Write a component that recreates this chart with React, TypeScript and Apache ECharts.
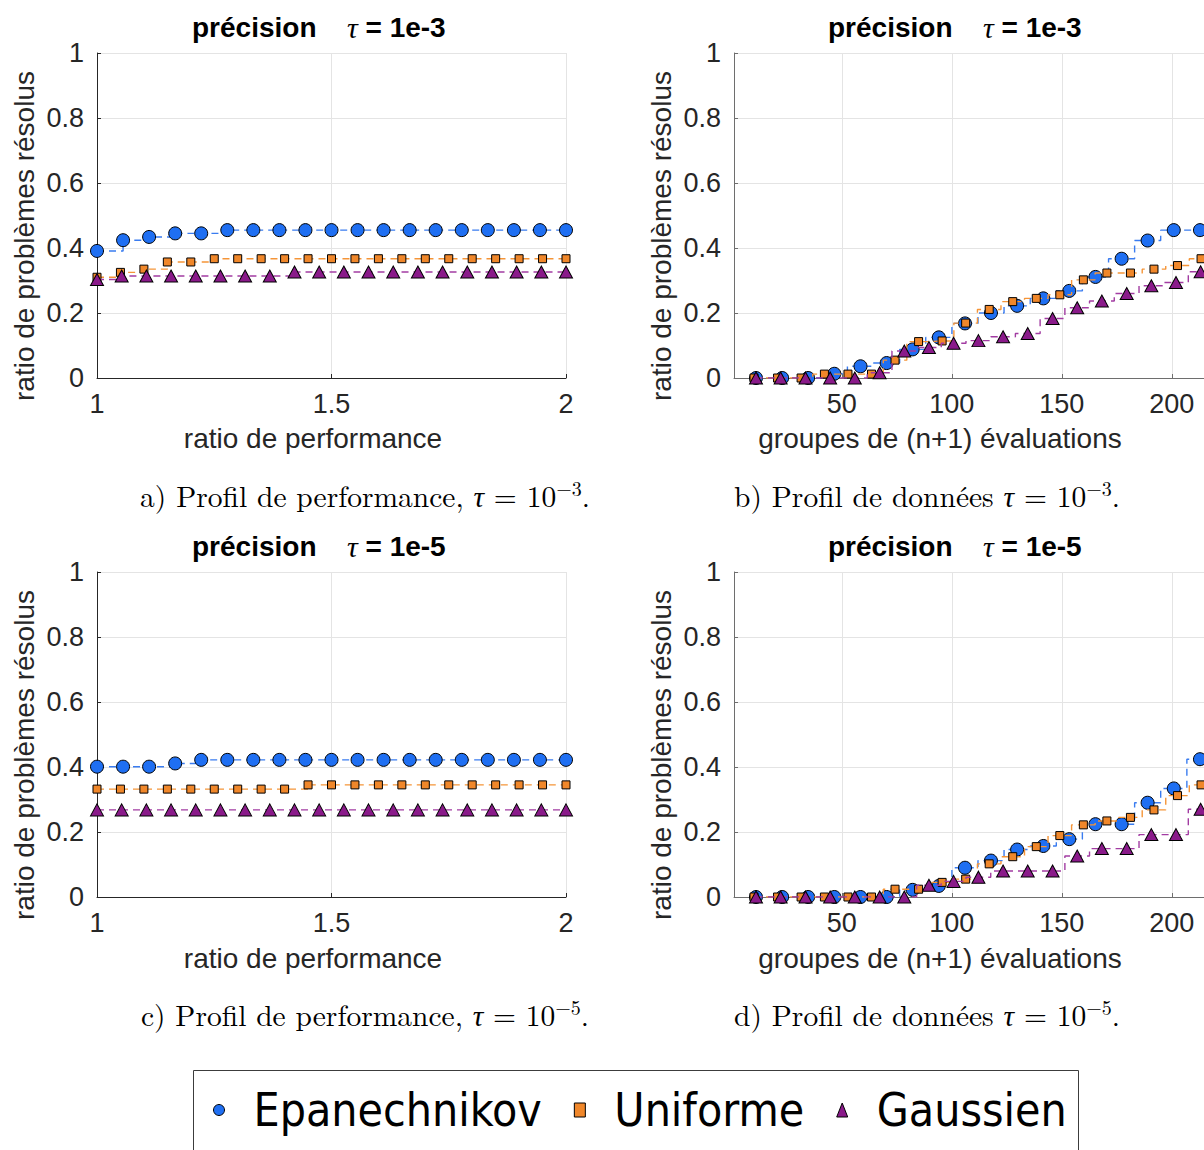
import React, { useEffect, useRef } from "react";
import * as echarts from "echarts";

// ---- abscissae of the markers (ratio de performance) ----
const perfEpaX = [1, 1.0556, 1.1111, 1.1667, 1.2222, 1.2778, 1.3333, 1.3889, 1.4444, 1.5, 1.5556, 1.6111, 1.6667, 1.7222, 1.7778, 1.8333, 1.8889, 1.9444, 2];
const perfUniX = [1, 1.05, 1.1, 1.15, 1.2, 1.25, 1.3, 1.35, 1.4, 1.45, 1.5, 1.55, 1.6, 1.65, 1.7, 1.75, 1.8, 1.85, 1.9, 1.95, 2];
const perfGauX = [1, 1.0526, 1.1053, 1.1579, 1.2105, 1.2632, 1.3158, 1.3684, 1.4211, 1.4737, 1.5263, 1.5789, 1.6316, 1.6842, 1.7368, 1.7895, 1.8421, 1.8947, 1.9474, 2];

// ---- abscissae of the markers (groupes de (n+1) évaluations) ----
const dataEpaX = [11, 22.9, 34.7, 46.6, 58.5, 70.4, 82.2, 94.1, 106, 117.8, 129.7, 141.6, 153.4, 165.3, 177.2, 189, 200.9, 212.8, 224.7];
const dataUniX = [10.1, 20.8, 31.5, 42.1, 52.8, 63.5, 74.2, 84.9, 95.6, 106.3, 117, 127.7, 138.4, 149.1, 159.8, 170.5, 181.2, 191.9, 202.6, 213.3, 224];
const dataGauX = [11, 22.2, 33.5, 44.7, 55.9, 67.2, 78.4, 89.6, 100.8, 112.1, 123.3, 134.5, 145.8, 157, 168.2, 179.5, 190.7, 201.9, 213.1, 224.4];

// ---- profils de performance, tau = 1e-3 ----
const perf3Epa = [0.391, 0.424, 0.434, 0.445, 0.445, 0.455, 0.455, 0.455, 0.455, 0.455, 0.455, 0.455, 0.455, 0.455, 0.455, 0.455, 0.455, 0.455, 0.455];
const perf3Uni = [0.31, 0.325, 0.335, 0.357, 0.357, 0.367, 0.367, 0.367, 0.367, 0.367, 0.367, 0.367, 0.367, 0.367, 0.367, 0.367, 0.367, 0.367, 0.367, 0.367, 0.367];
const perf3Gau = [0.303, 0.314, 0.314, 0.314, 0.314, 0.314, 0.314, 0.314, 0.326, 0.326, 0.326, 0.326, 0.326, 0.326, 0.326, 0.326, 0.326, 0.326, 0.326, 0.326];

// ---- profils de données, tau = 1e-3 ----
const data3Epa = [0, 0, 0, 0.013, 0.036, 0.046, 0.088, 0.125, 0.168, 0.2, 0.222, 0.245, 0.268, 0.311, 0.367, 0.423, 0.455, 0.455, 0.455];
const data3Uni = [0, 0, 0, 0.012, 0.012, 0.012, 0.055, 0.112, 0.114, 0.169, 0.211, 0.235, 0.245, 0.256, 0.302, 0.323, 0.323, 0.335, 0.346, 0.367, 0.367];
const data3Gau = [0, 0, 0, 0, 0, 0.016, 0.083, 0.094, 0.107, 0.115, 0.127, 0.137, 0.183, 0.216, 0.237, 0.26, 0.284, 0.294, 0.327, 0.327];

// ---- profils de performance, tau = 1e-5 ----
const perf5Epa = [0.401, 0.401, 0.401, 0.411, 0.422, 0.422, 0.422, 0.422, 0.422, 0.422, 0.422, 0.422, 0.422, 0.422, 0.422, 0.422, 0.422, 0.422, 0.422];
const perf5Uni = [0.332, 0.332, 0.332, 0.332, 0.332, 0.332, 0.332, 0.332, 0.332, 0.345, 0.345, 0.345, 0.345, 0.345, 0.345, 0.345, 0.345, 0.345, 0.345, 0.345, 0.345];
const perf5Gau = [0.268, 0.268, 0.268, 0.268, 0.268, 0.268, 0.268, 0.268, 0.268, 0.268, 0.268, 0.268, 0.268, 0.268, 0.268, 0.268, 0.268, 0.268, 0.268, 0.268];

// ---- profils de données, tau = 1e-5 ----
const data5Epa = [0, 0, 0, 0, 0, 0, 0.022, 0.034, 0.09, 0.112, 0.146, 0.157, 0.178, 0.224, 0.224, 0.29, 0.334, 0.424, 0.424];
const data5Uni = [0, 0, 0, 0, 0, 0, 0.024, 0.024, 0.045, 0.055, 0.102, 0.124, 0.155, 0.189, 0.222, 0.234, 0.245, 0.268, 0.312, 0.345, 0.345];
const data5Gau = [0, 0, 0, 0, 0, 0, 0, 0.036, 0.048, 0.061, 0.08, 0.08, 0.08, 0.126, 0.149, 0.149, 0.192, 0.192, 0.27, 0.27];

const yTicks = [0, 0.2, 0.4, 0.6, 0.8, 1];
const perfTicks = [1, 1.5, 2];
const dataTicks = [50, 100, 150, 200];

const methods = ["Epanechnikov", "Uniforme", "Gaussien"];

const SANS = "Liberation Sans, Arial, Helvetica, sans-serif";
const SERIF = "Latin Modern Roman, Liberation Serif, DejaVu Serif, serif";

const markerFill = ["#1f6ff2", "#f0872a", "#8a1a8a"];
const lineColor = ["#3a7cf0", "#f59538", "#a23ca2"];
const symbols = ["circle", "rect", "triangle"];
const symbolSizes: any[] = [13, 8, [13, 12]];

const zip = (xs: number[], ys: number[]) => xs.map((x, i) => [x, ys[i]]);

export default function App() {
  const ref = useRef<HTMLDivElement>(null);

  useEffect(() => {
    if (!ref.current) return;
    const chart = echarts.init(ref.current, undefined, { renderer: "svg" });

    const grids = [
      { left: 97, top: 53, width: 469, height: 325 },
      { left: 734, top: 53, width: 503.8, height: 325 },
      { left: 97, top: 572, width: 469, height: 325 },
      { left: 734, top: 572, width: 503.8, height: 325 },
    ];

    const gridLine = { show: true, lineStyle: { color: "#e4e4e4", width: 1 } };

    const xAxes = grids.map((_, g) => {
      const perf = g % 2 === 0;
      const axisColor = perf ? "#262626" : "#6e6e6e";
      const base: any = {
        type: "value",
        gridIndex: g,
        axisLine: { show: true, onZero: false, lineStyle: { color: axisColor, width: 1 } },
        axisTick: { show: true, inside: true, length: 4, lineStyle: { color: axisColor } },
        axisLabel: { fontSize: 27, fontFamily: SANS, color: "#262626", margin: 12 },
        splitLine: gridLine,
      };
      if (perf) {
        base.min = perfTicks[0];
        base.max = perfTicks[perfTicks.length - 1];
        base.interval = 0.5;
      } else {
        base.min = 1;
        base.max = 230;
        base.axisLabel.customValues = dataTicks;
        base.axisTick.customValues = dataTicks;
      }
      return base;
    });

    const yAxes = grids.map((_, g) => {
      const axisColor = g % 2 === 0 ? "#262626" : "#6e6e6e";
      return {
        type: "value",
        gridIndex: g,
        min: yTicks[0],
        max: yTicks[yTicks.length - 1],
        interval: 0.2,
        axisLine: { show: true, lineStyle: { color: axisColor, width: 1 } },
        axisTick: { show: true, inside: true, length: 4, lineStyle: { color: axisColor } },
        axisLabel: { fontSize: 27, fontFamily: SANS, color: "#262626", margin: 13 },
        splitLine: gridLine,
      };
    });

    const panels = [
      { xs: [perfEpaX, perfUniX, perfGauX], ys: [perf3Epa, perf3Uni, perf3Gau], step: "end" },
      { xs: [dataEpaX, dataUniX, dataGauX], ys: [data3Epa, data3Uni, data3Gau], step: "middle" },
      { xs: [perfEpaX, perfUniX, perfGauX], ys: [perf5Epa, perf5Uni, perf5Gau], step: "end" },
      { xs: [dataEpaX, dataUniX, dataGauX], ys: [data5Epa, data5Uni, data5Gau], step: "middle" },
    ];

    const series: any[] = [];
    panels.forEach((p, g) => {
      methods.forEach((name, m) => {
        series.push({
          type: "line",
          name,
          xAxisIndex: g,
          yAxisIndex: g,
          data: zip(p.xs[m], p.ys[m]),
          step: p.step,
          symbol: symbols[m],
          symbolSize: symbolSizes[m],
          showAllSymbol: true,
          z: 2 + m,
          itemStyle: { color: markerFill[m], borderColor: "#000", borderWidth: 1 },
          lineStyle: { color: lineColor[m], width: 1.4, type: [7, 5] },
          emphasis: { disabled: true },
        });
      });
    });

    const titleText = (x: number, y: number, tau: string) => [
      {
        type: "text",
        x,
        y,
        style: { text: "précision", font: `bold 28px ${SANS}`, fill: "#000", textVerticalAlign: "middle" },
      },
      {
        type: "text",
        x: x + 155,
        y,
        style: {
          text: `{t|τ}{b| = ${tau}}`,
          textVerticalAlign: "middle",
          rich: {
            t: { fontFamily: "Liberation Serif, serif", fontStyle: "italic", fontSize: 30, fill: "#000" },
            b: { fontFamily: SANS, fontWeight: "bold", fontSize: 28, fill: "#000" },
          },
        },
      },
    ];

    const axisName = (x: number, y: number, text: string, vertical: boolean) => ({
      type: "text",
      x,
      y,
      rotation: vertical ? Math.PI / 2 : 0,
      style: {
        text,
        font: `28px ${SANS}`,
        fill: "#262626",
        textAlign: "center",
        textVerticalAlign: "middle",
      },
    });

    const caption = (x: number, y: number, head: string, exp: string) => ({
      type: "text",
      x,
      y,
      style: {
        text: `{n|${head}}{i|τ}{n| = 10}{s|−${exp}}{n|.}`,
        textAlign: "center",
        textVerticalAlign: "middle",
        rich: {
          n: { fontFamily: SERIF, fontSize: 29.5, fill: "#000", lineHeight: 36 },
          i: { fontFamily: SERIF, fontStyle: "italic", fontSize: 29.5, fill: "#000", lineHeight: 36 },
          s: { fontFamily: SERIF, fontSize: 20, fill: "#000", verticalAlign: "top", lineHeight: 36 },
        },
      },
    });

    const graphic: any[] = [
      ...titleText(192, 27, "1e-3"),
      ...titleText(828, 27, "1e-3"),
      ...titleText(192, 546, "1e-5"),
      ...titleText(828, 546, "1e-5"),
      axisName(24, 236, "ratio de problèmes résolus", true),
      axisName(661, 236, "ratio de problèmes résolus", true),
      axisName(24, 755, "ratio de problèmes résolus", true),
      axisName(661, 755, "ratio de problèmes résolus", true),
      axisName(313, 438, "ratio de performance", false),
      axisName(940, 438, "groupes de (n+1) évaluations", false),
      axisName(313, 958, "ratio de performance", false),
      axisName(940, 958, "groupes de (n+1) évaluations", false),
      caption(365, 495, "a) Profil de performance, ", "3"),
      caption(927, 495, "b) Profil de données ", "3"),
      caption(365, 1014, "c) Profil de performance, ", "5"),
      caption(927, 1014, "d) Profil de données ", "5"),
      {
        type: "rect",
        shape: { x: 193.5, y: 1070.5, width: 885, height: 120 },
        style: { fill: "none", stroke: "#3c3c3c", lineWidth: 1 },
      },
    ];

    chart.setOption({
      animation: false,
      backgroundColor: "#fff",
      grid: grids,
      xAxis: xAxes,
      yAxis: yAxes,
      series,
      graphic,
      legend: {
        left: 208,
        top: 1082,
        orient: "horizontal",
        itemWidth: 11,
        itemHeight: 14,
        itemGap: 32,
        selectedMode: false,
        textStyle: {
          fontSize: 46,
          fontFamily: "DejaVu Sans Condensed, DejaVu Sans, sans-serif",
          color: "#000",
          padding: [0, 0, 0, 24],
        },
        data: methods.map((name, m) => ({
          name,
          icon: symbols[m],
          itemStyle: { color: markerFill[m], borderColor: "#000", borderWidth: 1 },
        })),
      },
    });

    return () => chart.dispose();
  }, []);

  return (
    <div
      style={{
        position: "absolute",
        left: 0,
        top: 0,
        width: 1204,
        height: 1150,
        overflow: "hidden",
        background: "#fff",
      }}
    >
      <div ref={ref} style={{ width: 1240, height: 1150 }} />
    </div>
  );
}
